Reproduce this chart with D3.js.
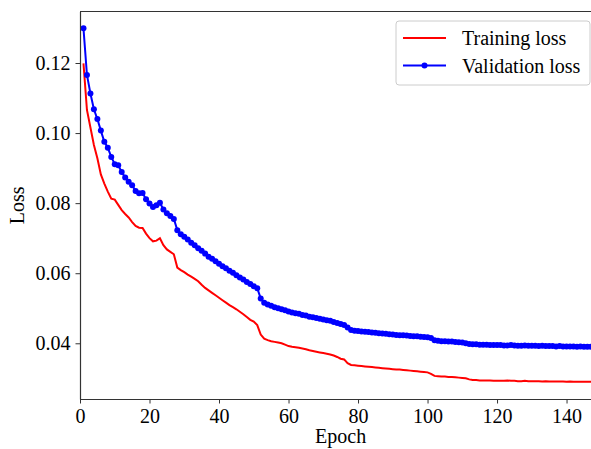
<!DOCTYPE html>
<html>
<head>
<meta charset="utf-8">
<script src="https://cdn.jsdelivr.net/npm/d3@7"></script>
<style>
  body { margin: 0; background: #fff; }
  text { font-family: "Liberation Serif", "DejaVu Serif", serif; fill: #000; }
</style>
</head>
<body>
<div id="wrapper"></div>
<script>
const trainingLoss = [
  0.1199, 0.1066, 0.1016, 0.0966, 0.0928, 0.0882, 0.0856, 0.0833, 0.0813, 0.0810,
  0.0795, 0.0780, 0.0769, 0.0759, 0.0746, 0.0735, 0.0730, 0.0729, 0.0713, 0.0700,
  0.0691, 0.0693, 0.0700, 0.0680, 0.0668, 0.0661, 0.0654, 0.0616, 0.0609, 0.0603,
  0.0596, 0.0590, 0.0584, 0.0577, 0.0567, 0.0558, 0.0551, 0.0544, 0.0537, 0.0530,
  0.0523, 0.0516, 0.0509, 0.0503, 0.0497, 0.0490, 0.0483, 0.0475, 0.0467, 0.0462,
  0.0452, 0.0425, 0.0413, 0.0409, 0.0406, 0.0404, 0.0402, 0.0400, 0.0396, 0.0392,
  0.0390, 0.0389, 0.0387, 0.0385, 0.0383, 0.0380, 0.0378, 0.0376, 0.0374, 0.0372,
  0.0370, 0.0368, 0.0365, 0.0361, 0.0356, 0.0354, 0.0343, 0.0338, 0.0337, 0.0336,
  0.0335, 0.0334, 0.0333, 0.0332, 0.0331, 0.0330, 0.0329, 0.0328, 0.0327, 0.0326,
  0.0325, 0.0325, 0.0324, 0.0323, 0.0322, 0.0321, 0.0320, 0.0319, 0.0318, 0.0317,
  0.0313, 0.0307, 0.0306, 0.0305, 0.0305, 0.0304, 0.0304, 0.0303, 0.0302, 0.0301,
  0.0300, 0.0297, 0.0295, 0.0295, 0.0294, 0.0294, 0.0294, 0.0294, 0.0293, 0.0293,
  0.0293, 0.0293, 0.0294, 0.0293, 0.0293, 0.0292, 0.0292, 0.0293, 0.0292, 0.0292,
  0.0292, 0.0292, 0.0291, 0.0292, 0.0291, 0.0291, 0.0291, 0.0291, 0.0291, 0.0290,
  0.0291, 0.0290, 0.0290, 0.0290, 0.0290, 0.0290, 0.0290, 0.0290, 0.0290, 0.0290
]

const validationLoss = [
  0.1299, 0.1166, 0.1113, 0.1068, 0.1040, 0.1007, 0.0975, 0.0958, 0.0932, 0.0911,
  0.0908, 0.0889, 0.0873, 0.0861, 0.0851, 0.0835, 0.0828, 0.0829, 0.0811, 0.0799,
  0.0789, 0.0794, 0.0801, 0.0782, 0.0771, 0.0763, 0.0755, 0.0723, 0.0711, 0.0704,
  0.0696, 0.0687, 0.0680, 0.0671, 0.0664, 0.0656, 0.0647, 0.0641, 0.0634, 0.0627,
  0.0620, 0.0614, 0.0607, 0.0601, 0.0594, 0.0588, 0.0582, 0.0575, 0.0569, 0.0563,
  0.0557, 0.0528, 0.0516, 0.0511, 0.0507, 0.0503, 0.0500, 0.0497, 0.0494, 0.0491,
  0.0488, 0.0486, 0.0484, 0.0481, 0.0479, 0.0476, 0.0474, 0.0472, 0.0470, 0.0468,
  0.0466, 0.0464, 0.0461, 0.0458, 0.0455, 0.0452, 0.0445, 0.0438, 0.0436, 0.0435,
  0.0434, 0.0433, 0.0432, 0.0431, 0.0430, 0.0429, 0.0428, 0.0427, 0.0426, 0.0425,
  0.0424, 0.0423, 0.0423, 0.0422, 0.0421, 0.0420, 0.0420, 0.0419, 0.0418, 0.0417,
  0.0415, 0.0409, 0.0407, 0.0406, 0.0406, 0.0405, 0.0405, 0.0404, 0.0403, 0.0402,
  0.0400, 0.0398, 0.0397, 0.0397, 0.0396, 0.0396, 0.0396, 0.0395, 0.0395, 0.0395,
  0.0395, 0.0394, 0.0394, 0.0395, 0.0394, 0.0393, 0.0393, 0.0394, 0.0393, 0.0393,
  0.0393, 0.0392, 0.0393, 0.0392, 0.0392, 0.0392, 0.0391, 0.0392, 0.0391, 0.0391,
  0.0391, 0.0391, 0.0390, 0.0391, 0.0390, 0.0390, 0.0390, 0.0390, 0.0390, 0.0390
]

const epochs = trainingLoss.map((d, i) => i + 1)
const xTicks = [0, 20, 40, 60, 80, 100, 120, 140]
const yTicks = [0.04, 0.06, 0.08, 0.10, 0.12]
const seriesNames = ["Training loss", "Validation loss"]

function drawChart() {
    let dimensions = {
        width: 591,
        height: 449,
        margin: { top: 11.5, right: -10.3, bottom: 50, left: 80 }
    }
    dimensions.boundedWidth = dimensions.width - dimensions.margin.left - dimensions.margin.right
    dimensions.boundedHeight = dimensions.height - dimensions.margin.top - dimensions.margin.bottom

    const wrapper = d3.select("#wrapper")
        .append("svg")
        .attr("width", dimensions.width)
        .attr("height", dimensions.height)

    const bounds = wrapper.append("g")
        .attr("transform", `translate(${dimensions.margin.left}, ${dimensions.margin.top})`)

    const xScale = d3.scaleLinear()
        .domain([0, 150])
        .range([0, dimensions.boundedWidth])

    const yScale = d3.scaleLinear()
        .domain([0.0241, 0.1347])
        .range([dimensions.boundedHeight, 0])

    bounds.append("clipPath")
        .attr("id", "plot-clip")
        .append("rect")
        .attr("width", dimensions.boundedWidth)
        .attr("height", dimensions.boundedHeight)

    const lineGenerator = d3.line()
        .x((d, i) => xScale(epochs[i]))
        .y(d => yScale(d))

    const plot = bounds.append("g").attr("clip-path", "url(#plot-clip)")

    plot.append("path")
        .attr("d", lineGenerator(trainingLoss))
        .attr("fill", "none")
        .attr("stroke", "#ff0000")
        .attr("stroke-width", 2)

    plot.append("path")
        .attr("d", lineGenerator(validationLoss))
        .attr("fill", "none")
        .attr("stroke", "#0000ff")
        .attr("stroke-width", 2)

    plot.selectAll(".val-dot")
        .data(validationLoss)
        .join("circle")
        .attr("class", "val-dot")
        .attr("cx", (d, i) => xScale(epochs[i]))
        .attr("cy", d => yScale(d))
        .attr("r", 3)
        .attr("fill", "#0000ff")

    // axes
    const xAxis = d3.axisBottom(xScale)
        .tickValues(xTicks)
        .tickSizeInner(4.5)
        .tickSizeOuter(0)
        .tickPadding(5)
        .tickFormat(d3.format("d"))
    const xAxisGroup = bounds.append("g")
        .attr("transform", `translate(0, ${dimensions.boundedHeight})`)
        .call(xAxis)

    const yAxis = d3.axisLeft(yScale)
        .tickValues(yTicks)
        .tickSizeInner(4.5)
        .tickSizeOuter(0)
        .tickPadding(5)
        .tickFormat(d3.format(".2f"))
    const yAxisGroup = bounds.append("g").call(yAxis)

    ;[xAxisGroup, yAxisGroup].forEach(g => {
        g.selectAll("text")
            .style("font-family", "'Liberation Serif', serif")
            .style("font-size", "20px")
            .attr("fill", "#000")
        g.selectAll("line").attr("stroke", "#333").attr("stroke-width", 1)
        g.select(".domain").attr("stroke", "#333").attr("stroke-width", 1.2)
    })

    bounds.append("line")
        .attr("x1", 0)
        .attr("x2", dimensions.boundedWidth)
        .attr("y1", 0)
        .attr("y2", 0)
        .attr("stroke", "#333")
        .attr("stroke-width", 1.2)

    bounds.append("text")
        .attr("x", dimensions.boundedWidth / 2)
        .attr("y", dimensions.boundedHeight + 44)
        .attr("text-anchor", "middle")
        .style("font-size", "20px")
        .text("Epoch")

    wrapper.append("text")
        .attr("transform", `translate(24, ${dimensions.margin.top + dimensions.boundedHeight / 2}) rotate(-90)`)
        .attr("text-anchor", "middle")
        .style("font-size", "20px")
        .text("Loss")

    // legend
    const legend = wrapper.append("g").attr("transform", "translate(396, 21)")
    legend.append("rect")
        .attr("width", 194)
        .attr("height", 64)
        .attr("rx", 3)
        .attr("fill", "#fff")
        .attr("fill-opacity", 0.8)
        .attr("stroke", "#cccccc")
        .attr("stroke-width", 1)

    const legendColors = ["#ff0000", "#0000ff"]
    const legendItems = legend.selectAll(".legend-item")
        .data(seriesNames)
        .join("g")
        .attr("class", "legend-item")
        .attr("transform", (d, i) => `translate(0, ${17 + i * 27.5})`)

    legendItems.append("line")
        .attr("x1", 7)
        .attr("x2", 50)
        .attr("stroke", (d, i) => legendColors[i])
        .attr("stroke-width", 2)

    legendItems.filter((d, i) => i === 1)
        .append("circle")
        .attr("cx", 28.5)
        .attr("r", 3)
        .attr("fill", "#0000ff")

    legendItems.append("text")
        .attr("x", 66)
        .attr("y", 7)
        .style("font-size", "20px")
        .text(d => d)
}

drawChart()
</script>
</body>
</html>
